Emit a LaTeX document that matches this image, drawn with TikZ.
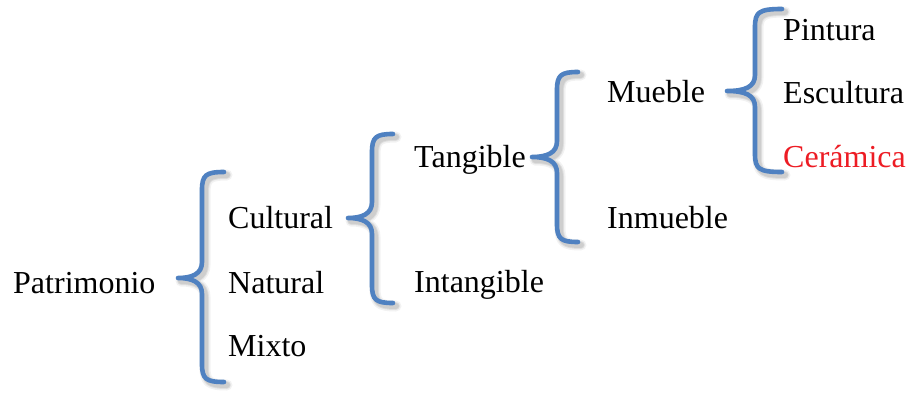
\documentclass[tikz,border=0pt]{standalone}
\usepackage{fontspec}
\setmainfont{Liberation Serif}
\definecolor{braceblue}{RGB}{79,129,193}
\definecolor{accentred}{RGB}{237,28,36}
% curly brace opening to the right: tip x, spine x, end x, top y, middle y, bottom y
\newcommand\curlypath[6]{%
  (#3,#4) .. controls (#2+4,#4) and (#2,#4+3) .. (#2,#4+18)
  -- (#2,#5-16) .. controls (#2,#5-4) and (#2-10,#5) .. (#1,#5)
  .. controls (#2-10,#5) and (#2,#5+4) .. (#2,#5+16)
  -- (#2,#6-18) .. controls (#2,#6-3) and (#2+4,#6) .. (#3,#6)}
\newcommand\curly[6]{%
  \foreach \w/\o in {11/0.05,8/0.07,6/0.08}{%
    \draw[line width=\w pt,black,opacity=\o,line cap=round,line join=round,
          shift={(3pt,-3pt)}] \curlypath{#1}{#2}{#3}{#4}{#5}{#6};}
  \draw[bracestroke] \curlypath{#1}{#2}{#3}{#4}{#5}{#6};}
\tikzset{
  bracestroke/.style={braceblue,line width=4.6pt,line cap=round,line join=round},
  term/.style={anchor=base west,inner sep=0pt,font=\fontsize{32}{38}\selectfont},
}
\begin{document}
\begin{tikzpicture}[x=1pt,y=-1pt]
\useasboundingbox[fill=white] (0,0) rectangle (907,394);

% braces
\curly{178}{202}{224}{172}{278}{382}
\curly{348}{372}{393}{134}{218}{303}
\curly{532}{557}{578}{72}{157}{242}
\curly{727}{755}{782}{9}{91}{172}

% terms
\node[term] (patrimonio) at (13,293) {Patrimonio};
\node[term] (cultural) at (228,228) {Cultural};
\node[term] (natural) at (228,293) {Natural};
\node[term] (mixto) at (228,356) {Mixto};
\node[term] (tangible) at (414,167) {Tangible};
\node[term] (intangible) at (414,292) {Intangible};
\node[term] (mueble) at (607,102) {Mueble};
\node[term] (inmueble) at (607,228) {Inmueble};
\node[term] (pintura) at (783,40) {Pintura};
\node[term] (escultura) at (783,103) {Escultura};
\node[term,text=accentred] (ceramica) at (783,167) {Cerámica};
\end{tikzpicture}
\end{document}
